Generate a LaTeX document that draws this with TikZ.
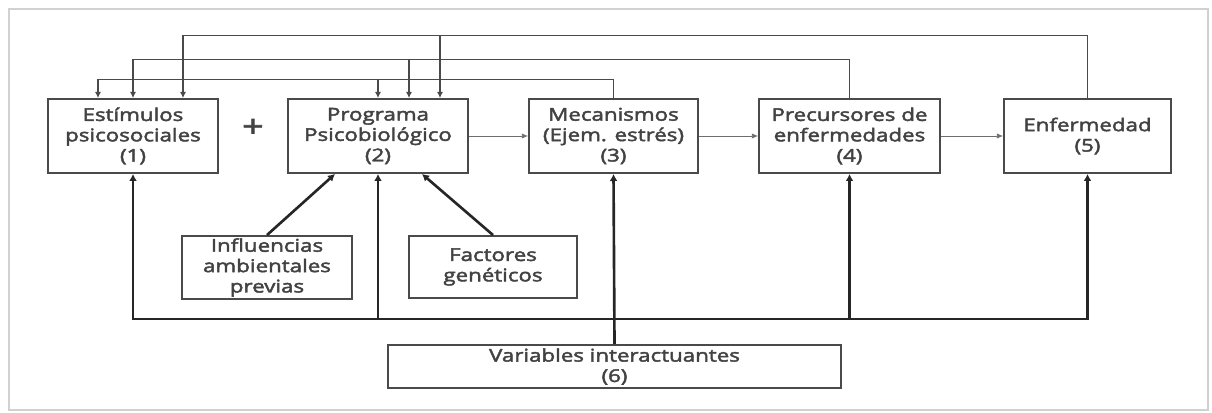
\documentclass[tikz,border=0pt]{standalone}
\usepackage{fontspec}
\setmainfont{Open Sans}[FakeStretch=1.27, FakeBold=2.5]
\usepackage{xcolor}
\usetikzlibrary{
    arrows.meta,
    positioning,
    calc
}
\definecolor{inkgray}{HTML}{424242}
\definecolor{linegray}{HTML}{4A4A4A}

\begin{document}
\begin{tikzpicture}[
    x=0.02cm, y=-0.02cm,
    >={Latex[length=4pt,width=4pt]},
    box/.style={draw=linegray, line width=1.1pt, fill=white, align=center,
        text=inkgray, inner sep=0pt,
        font=\fontsize{10}{11.6}\selectfont},
    feed/.style={->, draw=linegray, line width=0.6pt,
        >={Latex[length=3.5pt,width=3.5pt]}},
    flow/.style={->, draw=linegray!80, line width=0.45pt,
        >={Latex[length=3.5pt,width=3pt]}},
    up/.style={->, draw=black!85, line width=1.5pt,
        >={Latex[length=4pt,width=4.5pt]}}
]

\useasboundingbox (0,0) rectangle (1212,412);

% frame
\draw[black!18, line width=1.6pt] (9,9) rectangle (1208,410);

% main chain
\node[box, minimum width=3.40cm, minimum height=1.48cm] (b1) at (133,136)
    {Estímulos\\psicosociales\\(1)};
\node[box, minimum width=3.60cm, minimum height=1.48cm] (b2) at (378,136)
    {Programa\\Psicobiológico\\(2)};
\node[box, minimum width=3.38cm, minimum height=1.48cm] (b3) at (613.5,136)
    {Mecanismos\\(Ejem. estrés)\\(3)};
\node[box, minimum width=3.62cm, minimum height=1.48cm] (b4) at (849.5,136)
    {Precursores de\\enfermedades\\(4)};
\node[box, minimum width=3.34cm, minimum height=1.48cm] (b5) at (1087.5,136)
    {Enfermedad\\(5)};

\node[text=inkgray, font=\fontsize{17}{17}\selectfont] (plus) at (253,128) {+};

% influences
\node[box, minimum width=3.40cm, minimum height=1.26cm] (inf) at (267,267.5)
    {Influencias\\ambientales\\previas};
\node[box, minimum width=3.36cm, minimum height=1.24cm] (gen) at (493,267)
    {Factores\\genéticos};
\node[box, minimum width=9.06cm, minimum height=0.86cm] (var) at (614.5,366.5)
    {Variables interactuantes\\(6)};

\coordinate (busy) at (0,319);

% forward arrows
\draw[flow] (b2) -- (b3);
\draw[flow] (b3) -- (b4);
\draw[flow] (b4) -- (b5);

% feedback loops
\draw[feed] (b5.north) -- ++(0,-63) -| ($(b1.north)+(50,0)$);
\draw[feed] ($(b2.north)+(62,-63)$) -- ($(b2.north)+(62,0)$);
\draw[feed] (b4.north) -- ++(0,-39) -| (b1.north);
\draw[feed] ($(b2.north)+(31,-39)$) -- ($(b2.north)+(31,0)$);
\draw[feed] (b3.north) -- ++(0,-19) -| ($(b1.north)+(-35,0)$);
\draw[feed] ($(b2.north)+(0,-19)$) -- (b2.north);

% bottom bus
\draw[up, <->] (b1.south) -- (b1.south |- busy) -- (b5.south |- busy)
    -- (b5.south);
\draw[up] (b2.south |- busy) -- (b2.south);
\draw[up] (b4.south |- busy) -- (b4.south);
\draw[up] (var.north) -- (b3.south);

\draw[up] (inf.north) -- ($(b2.south)+(-43,0)$);
\draw[up] (gen.north) -- ($(b2.south)+(44,0)$);

\end{tikzpicture}
\end{document}
